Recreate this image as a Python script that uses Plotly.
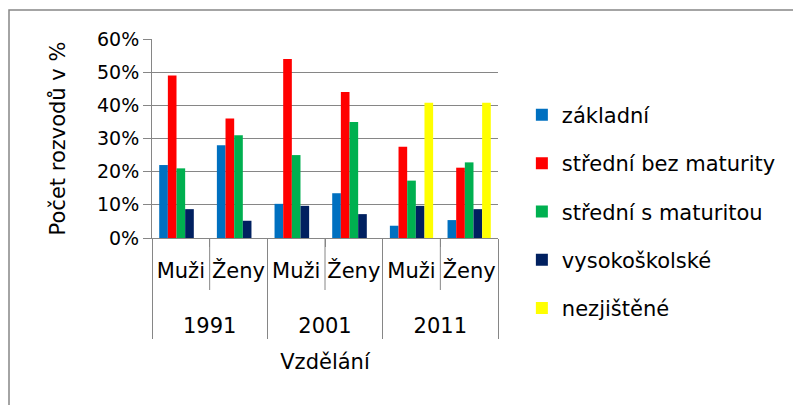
import plotly.graph_objects as go

# Vzdělání manželů - podíl rozvodů podle vzdělání (%)
roky = ["1991", "1991", "2001", "2001", "2011", "2011"]
pohlavi = ["Muži", "Ženy", "Muži", "Ženy", "Muži", "Ženy"]

zakladni = [22, 28, 10.3, 13.5, 3.7, 5.4]
stredni_bez = [49, 36, 54, 44, 27.5, 21.2]
stredni_s = [21, 31, 25, 35, 17.3, 22.8]
vysokoskolske = [8.7, 5.2, 9.7, 7.2, 9.7, 8.7]
nezjistene = [None, None, None, None, 40.8, 40.8]

rady = [
    ("základní", zakladni, "#0070C0"),
    ("střední bez maturity", stredni_bez, "#FF0000"),
    ("střední s maturitou", stredni_s, "#00B050"),
    ("vysokoškolské", vysokoskolske, "#002060"),
    ("nezjištěné", nezjistene, "#FFFF00"),
]

fnt = "DejaVu Sans"
seda = "#868686"

# popisky osy x: vetsi pismo, radek s roky odsazen nize
velke = "<span style='font-size:21px'>{}</span>"
x_roky = ["<br>" + velke.format(r) for r in roky]
x_pohlavi = [velke.format(p) + "<br><span style='font-size:1px'>\u00a0</span>" for p in pohlavi]

fig = go.Figure()
for jmeno, hodnoty, barva in rady:
    fig.add_trace(go.Bar(x=[x_roky, x_pohlavi], y=hodnoty, name=jmeno,
                         marker_color=barva, marker_line_width=0,
                         legendgroup=jmeno))

# svisle cary mezi Muzi a Zeny v ramci jednoho roku
n = len(roky)
cary = []
for i in range(1, n):
    if roky[i] == roky[i - 1]:
        cary.append(dict(type="line", xref="paper", yref="paper",
                         x0=i / n, x1=i / n, y0=0, y1=-52 / 199,
                         line=dict(color=seda, width=1)))

fig.update_layout(
    width=801, height=405,
    margin=dict(l=144, r=311, t=31, b=175),
    plot_bgcolor="white", paper_bgcolor="white",
    barmode="group", bargap=0.25, bargroupgap=0,
    font=dict(family=fnt, size=19, color="black"),
    showlegend=True,
    legend=dict(x=1.069, y=0.72, xanchor="left", yanchor="top",
                font=dict(size=21), traceorder="grouped", tracegroupgap=18,
                maxheight=400),
    shapes=[dict(type="rect", xref="paper", yref="paper",
                 x0=-143 / 346, x1=2.0, y0=-180 / 199, y1=1 + 29 / 199,
                 line=dict(color=seda, width=1.5))] + cary,
)

fig.update_yaxes(range=[0, 60], dtick=10, ticksuffix="%",
                 showgrid=True, gridcolor=seda, gridwidth=1,
                 showline=True, linecolor=seda, linewidth=1,
                 ticks="outside", ticklen=8, tickcolor=seda,
                 tickfont=dict(size=19),
                 title=dict(text="Počet rozvodů v %", font=dict(size=21), standoff=25))
fig.update_xaxes(type="multicategory", showline=True, linecolor=seda, linewidth=1,
                 ticks="outside", tickson="boundaries", ticklen=8, tickcolor=seda,
                 ticklabelstandoff=16,
                 showdividers=True, dividercolor=seda, dividerwidth=1,
                 tickangle=0, tickfont=dict(size=19),
                 title=dict(text="Vzdělání", font=dict(size=21), standoff=17))

fig.write_html("out.html")
